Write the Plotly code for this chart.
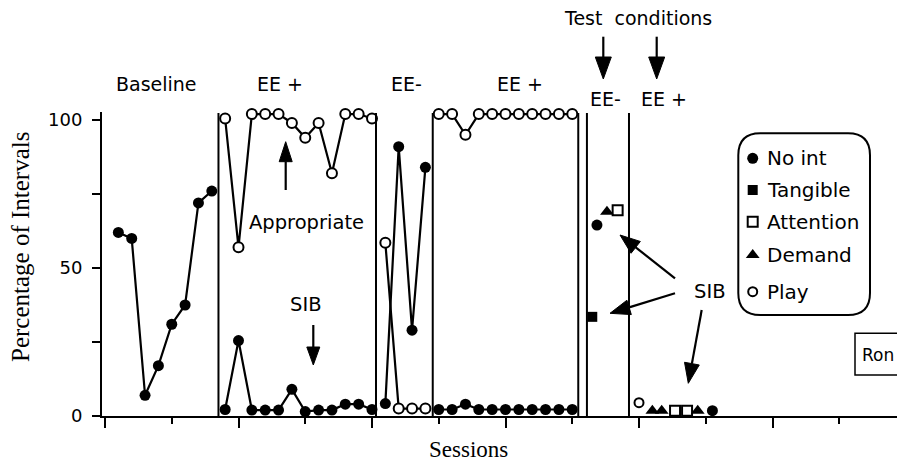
import plotly.graph_objects as go

# sessions and percentage of intervals
baseline_x = [1, 2, 3, 4, 5, 6, 7, 8]
baseline_sib = [62, 60, 7, 17, 31, 37.5, 72, 76]

ee1_x = [9, 10, 11, 12, 13, 14, 15, 16, 17, 18, 19, 20]
ee1_appr = [100.5, 57, 102, 102, 102, 99, 94, 99, 82, 102, 102, 100.5]
ee1_sib = [2.2, 25.5, 2, 2, 2, 9, 1.5, 2, 2, 4, 4, 2.2]

eem_x = [21, 22, 23, 24]
eem_appr = [58.5, 2.5, 2.5, 2.5]
eem_sib = [4.2, 91, 29, 84]

ee2_x = [25, 26, 27, 28, 29, 30, 31, 32, 33, 34, 35]
ee2_appr = [102, 102, 95, 102, 102, 102, 102, 102, 102, 102, 102]
ee2_sib = [2.2, 2.2, 4, 2.2, 2.2, 2.2, 2.2, 2.2, 2.2, 2.2, 2.2]

# test conditions (EE- then EE+)
noint_x = [36.85, 45.5]
noint_y = [64.5, 1.8]
tang_x = [36.5]
tang_y = [33.5]
att_x = [38.4, 42.7, 43.6]
att_y = [69.5, 1.8, 1.8]
dem_x = [37.6, 41.0, 41.7, 44.4]
dem_y = [69, 1.8, 1.8, 1.8]
play_x = [40]
play_y = [4.5]

phase_lines = [8.5, 20.3, 24.55, 35.45, 36.1, 39.25]

legend_names = ["No int", "Tangible", "Attention", "Demand", "Play"]

# plot area in screen pixels (the page body adds an 8px margin)
OFF = 8
W, H = 905, 464
L, R, T, B = 102, 905, 112, 416
SPP = 13.35   # pixels per session
PPU = 2.96    # pixels per percent


def px(x):
    return (x - L) / (R - L)


def py(y):
    return (B - y) / (B - T)


FONT = "DejaVu Sans"
SERIF = "Liberation Serif"

filled = dict(symbol="circle", size=11, color="black")
hollow = dict(symbol="circle", size=10, color="white", line=dict(color="black", width=2))
line = dict(color="black", width=2.2)

fig = go.Figure()

for xs, ys in [(baseline_x, baseline_sib), (ee1_x, ee1_sib), (eem_x, eem_sib), (ee2_x, ee2_sib)]:
    fig.add_trace(go.Scatter(x=xs, y=ys, mode="lines+markers", line=line, marker=filled,
                             cliponaxis=False, showlegend=False))
for xs, ys in [(ee1_x, ee1_appr), (eem_x, eem_appr), (ee2_x, ee2_appr)]:
    fig.add_trace(go.Scatter(x=xs, y=ys, mode="lines+markers", line=line, marker=hollow,
                             cliponaxis=False, showlegend=False))

test_styles = [
    dict(symbol="circle", size=11, color="black"),
    dict(symbol="square", size=10, color="black"),
    dict(symbol="square-open", size=10, color="black", line=dict(width=2)),
    dict(symbol="triangle-up", size=12, color="black"),
    dict(symbol="circle-open", size=9, color="black", line=dict(width=2)),
]
for (xs, ys), st in zip([(noint_x, noint_y), (tang_x, tang_y), (att_x, att_y),
                         (dem_x, dem_y), (play_x, play_y)], test_styles):
    fig.add_trace(go.Scatter(x=xs, y=ys, mode="markers", marker=st,
                             cliponaxis=False, showlegend=False))

# hand-made legend on an overlay axis in paper units
leg_rows = [158.3, 190, 221.7, 255, 291.7]
for name, st, yy in zip(legend_names, test_styles, leg_rows):
    fig.add_trace(go.Scatter(x=[px(752.7)], y=[py(yy)], xaxis="x2", yaxis="y2",
                             mode="markers", marker=st, cliponaxis=False, showlegend=False))

shapes = []
for xv in phase_lines:
    shapes.append(dict(type="line", xref="x", yref="paper", x0=xv, x1=xv, y0=0, y1=py(113),
                       line=dict(color="black", width=2)))


def arrow(x0, y0, x1, y1, hl, hw):
    dx, dy = x1 - x0, y1 - y0
    n = (dx * dx + dy * dy) ** 0.5
    ux, uy = dx / n, dy / n
    bx, by = x1 - ux * hl, y1 - uy * hl
    shapes.append(dict(type="line", xref="paper", yref="paper",
                       x0=px(x0), y0=py(y0), x1=px(bx), y1=py(by),
                       line=dict(color="black", width=2.2)))
    p1 = (bx - uy * hw / 2, by + ux * hw / 2)
    p2 = (bx + uy * hw / 2, by - ux * hw / 2)
    path = "M{},{} L{},{} L{},{} Z".format(px(x1), py(y1), px(p1[0]), py(p1[1]), px(p2[0]), py(p2[1]))
    shapes.append(dict(type="path", xref="paper", yref="paper", path=path,
                       fillcolor="black", line=dict(color="black", width=1)))


arrow(285.7, 190, 285.7, 141.7, 20, 13)
arrow(313.3, 325, 313.3, 365, 18, 13)
arrow(603.3, 36.7, 603.3, 79, 22, 16)
arrow(656.7, 36.7, 656.7, 79, 22, 16)
arrow(675, 278.3, 620, 235, 20, 15)
arrow(675, 293.3, 610, 313.3, 20, 15)
arrow(701.7, 310, 688.3, 383.3, 20, 15)

# rounded legend box
x0, y0, x1, y1, r = 738.3, 133.3, 870, 315, 22
pts = [("M", x0 + r, y0), ("L", x1 - r, y0), ("Q", x1, y0, x1, y0 + r), ("L", x1, y1 - r),
       ("Q", x1, y1, x1 - r, y1), ("L", x0 + r, y1), ("Q", x0, y1, x0, y1 - r),
       ("L", x0, y0 + r), ("Q", x0, y0, x0 + r, y0)]
path = ""
for p in pts:
    c = p[0]
    coords = p[1:]
    seg = [f"{px(coords[i]):.5f},{py(coords[i + 1]):.5f}" for i in range(0, len(coords), 2)]
    path += c + " ".join(seg) + " "
shapes.append(dict(type="path", xref="paper", yref="paper", path=path + "Z",
                   line=dict(color="black", width=2)))

# Ron box
shapes.append(dict(type="rect", xref="paper", yref="paper", x0=px(855), x1=px(901.7),
                   y0=py(375), y1=py(333.3), line=dict(color="black", width=1.5)))

anns = []


def label(text, x, y, size=20, xanchor="center", font=FONT, angle=0):
    anns.append(dict(text=text, x=px(x), y=py(y), xref="paper", yref="paper", showarrow=False,
                     xanchor=xanchor, yanchor="middle", textangle=angle,
                     font=dict(family=font, size=size, color="black")))


label("Baseline", 156, 84, 19)
label("EE +", 280, 84, 19)
label("EE-", 406, 84, 19)
label("EE +", 520, 84, 19)
label("Test  conditions", 638, 17.5, 19)
label("EE-", 605, 99, 19)
label("EE +", 664, 99, 19)
label("Appropriate", 306, 222, 19.5)
label("SIB", 306, 304, 19.5)
label("SIB", 710, 291, 19.5)
for name, yy in zip(legend_names, leg_rows):
    label(name, 765, yy, 20, xanchor="left")
label("Ron", 878, 355, 17)
label("Percentage of Intervals", 20, 247, 25, font=SERIF, angle=-90)
label("Sessions", 468, 449, 23, font=SERIF)

fig.update_layout(
    width=W - OFF, height=H - OFF,
    margin=dict(l=L - OFF, r=W - R, t=T - OFF, b=H - B),
    plot_bgcolor="white", paper_bgcolor="white",
    shapes=shapes, annotations=anns,
    font=dict(family=FONT, color="black"),
    xaxis=dict(range=[(L - 105) / SPP, (R - 105) / SPP], showgrid=False, zeroline=False,
               showline=True, linecolor="black", linewidth=2,
               tickvals=[0, 10, 20, 30, 40, 50], ticks="outside", ticklen=10, tickwidth=2,
               tickcolor="black", showticklabels=False,
               minor=dict(dtick=5, tick0=0, ticks="outside", ticklen=6, tickwidth=2, tickcolor="black")),
    yaxis=dict(range=[0, (B - T) / PPU], showgrid=False, zeroline=False,
               showline=True, linecolor="black", linewidth=2,
               tickvals=[0, 50, 100], ticks="outside", ticklen=8, tickwidth=2, tickcolor="black",
               tickfont=dict(family=FONT, size=18), ticklabelstandoff=6,
               minor=dict(dtick=25, tick0=0, ticks="outside", ticklen=8, tickwidth=2, tickcolor="black")),
    xaxis2=dict(overlaying="x", range=[0, 1], visible=False, anchor="y2"),
    yaxis2=dict(overlaying="y", range=[0, 1], visible=False, anchor="x2"),
)

fig.write_html("out.html")
